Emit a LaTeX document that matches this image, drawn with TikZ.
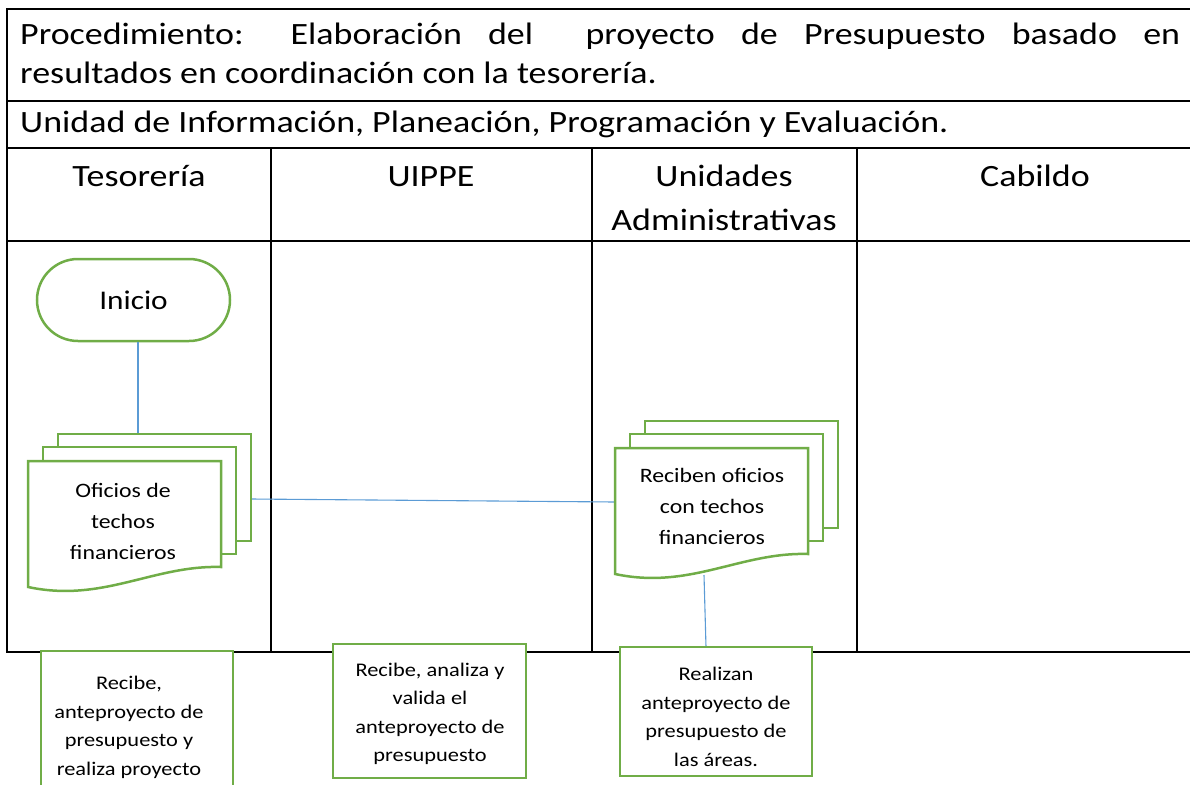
\documentclass[tikz,border=0pt]{standalone}
\usepackage{fontspec}
\setmainfont{Carlito}[FakeStretch=1.16]
\definecolor{grn}{HTML}{70AD47}
\definecolor{blu}{HTML}{5B9BD5}
\tikzset{
  grid/.style={line width=2.4pt, black},
  gshape/.style={draw=grn, line width=2.5pt, fill=white},
  conn/.style={draw=blu, line width=1.1pt},
  bigtxt/.style={anchor=base, inner sep=0pt, font=\fontsize{31}{35}\selectfont},
  doctxt/.style={align=center, inner sep=0pt, font=\fontsize{20.5}{31}\selectfont},
  boxtxt/.style={align=center, inner sep=0pt, font=\fontsize{19.3}{28.5}\selectfont},
}
\newcommand\mdocshape[2]{%
  \draw[gshape] (#1+30,#2-27) rectangle (#1+223,#2+80);
  \draw[gshape] (#1+15,#2-14) rectangle (#1+208,#2+93);
  \draw[gshape] (#1,#2) -- (#1+193,#2) -- (#1+193,#2+106)
     .. controls (#1+125,#2+104) and (#1+75,#2+142) .. (#1,#2+126) -- cycle;
}
\begin{document}
\begin{tikzpicture}[x=1pt,y=-1pt]
\useasboundingbox (0,0) rectangle (1190,784);
\clip (0,0) rectangle (1190,784);

% table grid
\draw[grid] (1215,9) -- (7,9) -- (7,652) -- (1215,652);
\draw[grid] (7,101) -- (1215,101);
\draw[grid] (7,148) -- (1215,148);
\draw[grid] (7,241) -- (1215,241);
\draw[grid] (271,148) -- (271,652);
\draw[grid] (592,148) -- (592,652);
\draw[grid] (857,148) -- (857,652);
\draw[grid] (1213,9) -- (1213,652);

% title and header texts
\node[bigtxt, anchor=base west] (t1) at (20,45)
  {\makebox[1160pt][s]{Procedimiento: Elaboración del\ \ proyecto de Presupuesto basado en}};
\node[bigtxt, anchor=base west] (t2) at (20,83) {resultados en coordinación con la tesorería.};
\node[bigtxt, anchor=base west] (unit) at (20,132) {Unidad de Información, Planeación, Programación y Evaluación.};
\node[bigtxt] (h1) at (139,186) {Tesorería};
\node[bigtxt] (h2) at (431,186) {UIPPE};
\node[bigtxt] (h3a) at (724,186) {Unidades};
\node[bigtxt] (h3b) at (724,230) {Administrativas};
\node[bigtxt] (h4) at (1035,186) {Cabildo};

% connection points
\coordinate (ldtop) at (138,434);
\coordinate (ldright) at (251,499);
\coordinate (rdleft) at (615,502);
\coordinate (rdbot) at (704,575);
\coordinate (b3top) at (706,647);

% start node
\node[gshape, rounded corners=41pt, minimum width=193pt, minimum height=82pt,
      inner sep=0pt, font=\fontsize{27}{30}\selectfont] (inicio) at (133.5,300) {Inicio};

% connectors
\draw[conn] (inicio.south -| ldtop) -- (ldtop);
\draw[conn] (ldright) -- (rdleft);
\draw[conn] (rdbot) -- (b3top);

% multi-documents
\mdocshape{28}{461}
\node[doctxt] (ofi) at (123,521) {Oficios de\\techos\\financieros};
\mdocshape{615}{448}
\node[doctxt] (rec) at (712,506) {Reciben oficios\\con techos\\financieros};

% bottom boxes
\node[gshape, minimum width=192pt, minimum height=153pt, inner sep=0pt] (b1) at (137,727.5) {};
\node[boxtxt] (b1t) at (129,727.5) {Recibe,\\anteproyecto de\\presupuesto y\\realiza proyecto};
\node[gshape, minimum width=193pt, minimum height=134pt, inner sep=0pt] (b2) at (429.5,711) {};
\node[boxtxt] (b2t) at (430,714) {Recibe, analiza y\\valida el\\anteproyecto de\\presupuesto};
\node[gshape, minimum width=192pt, minimum height=129pt, inner sep=0pt] (b3) at (716,711.5) {};
\node[boxtxt] (b3t) at (716,717) {Realizan\\anteproyecto de\\presupuesto de\\las áreas.};
\end{tikzpicture}
\end{document}
